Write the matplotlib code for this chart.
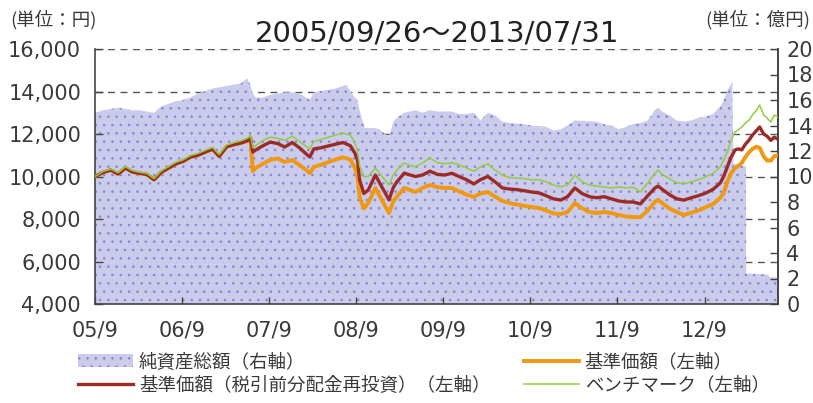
import pandas as pd
import matplotlib
matplotlib.use("Agg")
import matplotlib.pyplot as plt
import matplotlib.patches as mpatches
import matplotlib.lines as mlines
from matplotlib.font_manager import FontProperties

# ---- data ----
line_dates = [
    "2005-09-26", "2005-11-01", "2005-12-01", "2006-01-01", "2006-02-01", "2006-03-01",
    "2006-04-01", "2006-05-01", "2006-06-01", "2006-07-01", "2006-08-01", "2006-09-01",
    "2006-10-01", "2006-11-01", "2006-12-01", "2007-01-01", "2007-02-01", "2007-03-01",
    "2007-04-01", "2007-05-01", "2007-06-01", "2007-07-01", "2007-07-10", "2007-07-20",
    "2007-08-01", "2007-09-01", "2007-10-01", "2007-11-01", "2007-12-01", "2008-01-01",
    "2008-02-01", "2008-03-01", "2008-03-15", "2008-04-01", "2008-05-01", "2008-06-01",
    "2008-07-01", "2008-08-01", "2008-09-01", "2008-09-20", "2008-10-01", "2008-10-10",
    "2008-10-28", "2008-11-15", "2008-12-15", "2009-02-10", "2009-03-01", "2009-03-15",
    "2009-04-15", "2009-05-01", "2009-06-01", "2009-07-01", "2009-08-01", "2009-09-01",
    "2009-10-01", "2009-11-01", "2009-12-01", "2010-01-01", "2010-02-01", "2010-03-01",
    "2010-04-01", "2010-05-01", "2010-06-01", "2010-07-01", "2010-08-01", "2010-09-01",
    "2010-10-01", "2010-11-01", "2010-12-01", "2011-01-01", "2011-02-01", "2011-03-01",
    "2011-04-01", "2011-05-01", "2011-06-01", "2011-07-01", "2011-08-01", "2011-09-01",
    "2011-10-01", "2011-11-01", "2011-12-01", "2012-01-01", "2012-02-01", "2012-03-01",
    "2012-03-15", "2012-04-01", "2012-05-01", "2012-06-01", "2012-07-01", "2012-08-01",
    "2012-09-01", "2012-10-01", "2012-11-01", "2012-12-01", "2012-12-15", "2013-01-01",
    "2013-01-15", "2013-02-01", "2013-02-15", "2013-03-01", "2013-03-15", "2013-04-01",
    "2013-04-15", "2013-05-01", "2013-05-15", "2013-06-01", "2013-06-15", "2013-07-01",
    "2013-07-15", "2013-07-31",
]

# 基準価額（税引前分配金再投資）
nav_reinvest = [
    10000, 10200, 10300, 10120, 10400, 10220, 10150, 10100, 9850, 10200, 10400, 10600,
    10720, 10920, 11000, 11150, 11290, 10950, 11400, 11500, 11580, 11700, 11810, 11150,
    11250, 11450, 11620, 11550, 11390, 11600, 11350, 11050, 10920, 11300, 11350, 11440,
    11520, 11600, 11450, 11100, 10780, 9830, 9200, 9360, 10070, 8900, 9500, 9740,
    10160, 10100, 10000, 10070, 10250, 10100, 10070, 10150, 10000, 9850, 9650, 9850,
    10000, 9750, 9460, 9410, 9380, 9330, 9270, 9230, 9100, 8950, 8890, 9050,
    9460, 9200, 9050, 9000, 9050, 8950, 8850, 8800, 8800, 8710, 9100, 9450,
    9550, 9400, 9150, 8950, 8890, 9000, 9100, 9220, 9400, 9700, 10000, 10500,
    10900, 11250, 11300, 11250, 11500, 11720, 11950, 12150, 12330, 12000, 11900, 11700,
    11850, 11750,
]

# 基準価額
nav = [
    10000, 10200, 10300, 10120, 10400, 10220, 10150, 10100, 9850, 10200, 10400, 10600,
    10720, 10920, 11000, 11150, 11290, 10950, 11400, 11500, 11580, 11700, 11810, 10250,
    10400, 10600, 10780, 10850, 10680, 10780, 10540, 10300, 10160, 10450, 10550, 10680,
    10800, 10900, 10800, 10400, 10000, 9040, 8500, 8750, 9460, 8280, 8850, 9040,
    9460, 9400, 9270, 9460, 9600, 9500, 9460, 9460, 9300, 9150, 9040, 9200,
    9270, 9050, 8850, 8750, 8680, 8620, 8560, 8520, 8400, 8260, 8230, 8330,
    8750, 8500, 8330, 8280, 8330, 8280, 8190, 8120, 8090, 8090, 8400, 8800,
    8900, 8750, 8500, 8330, 8190, 8300, 8400, 8560, 8700, 9000, 9220, 9800,
    10150, 10400, 10500, 10640, 10900, 11150, 11300, 11400, 11350, 10950, 10750, 10750,
    10950, 11000,
]

# ベンチマーク
benchmark = [
    10000, 10250, 10350, 10180, 10460, 10280, 10200, 10150, 9900, 10260, 10470, 10670,
    10790, 10990, 11080, 11230, 11370, 11030, 11480, 11590, 11680, 11820, 11950, 11350,
    11450, 11700, 11850, 11800, 11700, 11900, 11650, 11400, 11300, 11650, 11750, 11850,
    11950, 12050, 11950, 11600, 11200, 10500, 10000, 10000, 10400, 9600, 10100, 10300,
    10640, 10550, 10450, 10640, 10870, 10650, 10600, 10650, 10550, 10400, 10250, 10450,
    10590, 10300, 10070, 9950, 9930, 9900, 9840, 9850, 9750, 9600, 9510, 9600,
    10070, 9750, 9600, 9550, 9500, 9460, 9510, 9460, 9500, 9270, 9700, 10150,
    10300, 10100, 9900, 9700, 9650, 9750, 9850, 10000, 10150, 10450, 10780, 11200,
    11700, 12100, 12200, 12330, 12500, 12660, 12900, 13100, 13360, 12900, 12750, 12560,
    12890, 12800,
]

# 純資産総額（億円）
asset_dates = [
    "2005-09-26", "2005-11-01", "2005-12-01", "2006-01-01", "2006-02-01", "2006-03-01",
    "2006-04-01", "2006-05-01", "2006-06-01", "2006-07-01", "2006-08-01", "2006-09-01",
    "2006-10-01", "2006-11-01", "2006-12-01", "2007-01-01", "2007-02-01", "2007-03-01",
    "2007-04-01", "2007-05-01", "2007-06-01", "2007-06-25", "2007-07-10", "2007-07-20",
    "2007-08-01", "2007-09-01", "2007-10-01", "2007-11-01", "2007-12-01", "2008-01-01",
    "2008-02-01", "2008-03-01", "2008-03-15", "2008-04-01", "2008-05-01", "2008-06-01",
    "2008-07-01", "2008-08-01", "2008-08-15", "2008-09-01", "2008-09-20", "2008-10-01",
    "2008-10-10", "2008-10-25", "2008-11-01", "2008-12-15", "2009-01-01", "2009-02-10",
    "2009-03-01", "2009-03-15", "2009-04-15", "2009-06-01", "2009-07-01", "2009-08-01",
    "2009-09-01", "2009-11-01", "2009-12-01", "2010-01-01", "2010-02-01", "2010-03-01",
    "2010-04-01", "2010-05-01", "2010-06-01", "2010-07-01", "2010-09-01", "2010-10-01",
    "2010-12-01", "2011-01-01", "2011-02-01", "2011-03-01", "2011-04-01", "2011-07-01",
    "2011-08-01", "2011-09-01", "2011-10-01", "2011-11-01", "2011-12-01", "2012-01-01",
    "2012-02-01", "2012-03-01", "2012-03-15", "2012-04-01", "2012-05-01", "2012-06-01",
    "2012-07-01", "2012-08-01", "2012-09-01", "2012-10-01", "2012-11-01", "2012-12-01",
    "2012-12-15", "2013-01-01", "2013-01-20", "2013-01-25", "2013-03-18", "2013-03-20",
    "2013-06-20", "2013-06-25", "2013-07-31",
]
net_assets = [
    15.0, 15.2, 15.3, 15.4, 15.3, 15.2,
    15.2, 15.1, 15.0, 15.5, 15.7, 15.9,
    16.0, 16.2, 16.5, 16.7, 16.9, 17.0,
    17.1, 17.2, 17.3, 17.7, 17.2, 16.5,
    16.2, 16.2, 16.4, 16.5, 16.6, 16.6,
    16.5, 16.2, 16.0, 16.6, 16.7, 16.8,
    16.9, 17.1, 17.2, 16.7, 16.2, 16.0,
    15.2, 14.2, 13.8, 13.8, 13.7, 13.1,
    14.3, 14.6, 15.0, 15.2, 15.0, 15.2,
    15.1, 15.1, 14.9, 14.9, 15.0, 14.4,
    15.0, 14.8, 14.3, 14.2, 14.1, 14.0,
    13.9, 13.6, 13.7, 14.0, 14.4, 14.3,
    14.1, 14.0, 13.7, 13.9, 14.1, 14.2,
    14.4, 15.2, 15.4, 15.1, 14.8, 14.4,
    14.3, 14.4, 14.6, 14.7, 14.9, 15.5,
    16.0, 16.8, 17.4, 11.0, 10.8, 2.4,
    2.3, 2.1, 2.1,
]

tick_dates = ["2005-09-26", "2006-09-26", "2007-09-26", "2008-09-26",
              "2009-09-26", "2010-09-26", "2011-09-26", "2012-09-26"]
tick_labels = ["05/9", "06/9", "07/9", "08/9", "09/9", "10/9", "11/9", "12/9"]
left_ticks = [4000, 6000, 8000, 10000, 12000, 14000, 16000]
right_ticks = list(range(0, 21, 2))

# ---- style ----
jp = FontProperties(family="Noto Sans CJK JP", size=13.3)
text_color = "#3a3a3a"
area_color = "#cbcbea"
dot_color = "#8484e2"
orange = "#f0980f"
brown = "#9c2b26"
green = "#93cc3c"

plt.rcParams["hatch.linewidth"] = 0.6

fig = plt.figure(figsize=(8.13, 4.03), dpi=100)
ax = fig.add_axes([95 / 813, 1 - 304 / 403, (778 - 95) / 813, (304 - 49) / 403])
ax2 = ax.twinx()

x_line = pd.to_datetime(line_dates)
x_area = pd.to_datetime(asset_dates)

# dashed guide lines live under the area, on the right-hand axes
ax2.hlines(left_ticks[1:], 0, 1, transform=ax.get_yaxis_transform(),
           colors="#555555", linestyles=(0, (5, 4)), linewidth=1.0, zorder=0.5)
ax2.fill_between(x_area, 0, net_assets, facecolor=area_color, edgecolor=dot_color,
                 hatch="..", linewidth=0, zorder=1)
ax2.set_ylim(0, 20)
ax2.set_yticks(right_ticks)

ax.plot(x_line, nav, color=orange, linewidth=2.8, zorder=3)
ax.plot(x_line, nav_reinvest, color=brown, linewidth=2.4, zorder=4)
ax.plot(x_line, benchmark, color=green, linewidth=1.1, zorder=5)
ax.set_ylim(4000, 16000)
ax.set_yticks(left_ticks)
ax.set_yticklabels([f"{v:,}" for v in left_ticks])
ax.set_xlim(pd.Timestamp("2005-09-26"), pd.Timestamp("2013-07-31"))
ax.set_xticks(pd.to_datetime(tick_dates))
ax.set_xticklabels(tick_labels)

# lines above the area
ax.set_zorder(ax2.get_zorder() + 1)
ax.patch.set_visible(False)

for a in (ax, ax2):
    a.spines["top"].set_visible(False)
    for s in ("left", "right", "bottom"):
        a.spines[s].set_color("#444444")
        a.spines[s].set_linewidth(1.2)
ax2.spines["left"].set_visible(False)
ax2.spines["bottom"].set_visible(False)

ax.tick_params(axis="y", direction="in", length=6, width=1, colors="#444444",
               labelsize=15, labelcolor=text_color, pad=10)
ax.tick_params(axis="x", direction="in", length=5, width=1, colors="#444444",
               labelsize=15, labelcolor=text_color, pad=12)
ax2.tick_params(axis="y", direction="in", length=6, width=1, colors="#444444",
                labelsize=15, labelcolor=text_color, pad=6)

fig.text(437 / 813, 1 - 33 / 403, "2005/09/26～2013/07/31", ha="center", va="center",
         fontsize=21, color="#222222", family=["DejaVu Sans", "Noto Sans CJK JP"])
fig.text(10 / 813, 1 - 20 / 403, "(単位：円)", ha="left", va="center",
         fontproperties=jp, color=text_color)
fig.text(810 / 813, 1 - 20 / 403, "(単位：億円)", ha="right", va="center",
         fontproperties=jp, color=text_color)

handles = [
    mpatches.Patch(facecolor=area_color, edgecolor=dot_color, hatch="..", linewidth=0),
    mlines.Line2D([], [], color=brown, linewidth=2.4),
    mlines.Line2D([], [], color=orange, linewidth=2.8),
    mlines.Line2D([], [], color=green, linewidth=1.1),
]
labels = ["純資産総額（右軸）", "基準価額（税引前分配金再投資）（左軸）",
          "基準価額（左軸）", "ベンチマーク（左軸）"]
leg = fig.legend(handles, labels, ncol=2, loc="upper left",
                 bbox_to_anchor=(78 / 813, 1 - 353 / 403), frameon=False, prop=jp,
                 handlelength=3.0, handletextpad=0.3, columnspacing=1.8,
                 labelspacing=0.3, borderpad=0, borderaxespad=0)
for t in leg.get_texts():
    t.set_color(text_color)

fig.savefig("out.png", dpi=100)
